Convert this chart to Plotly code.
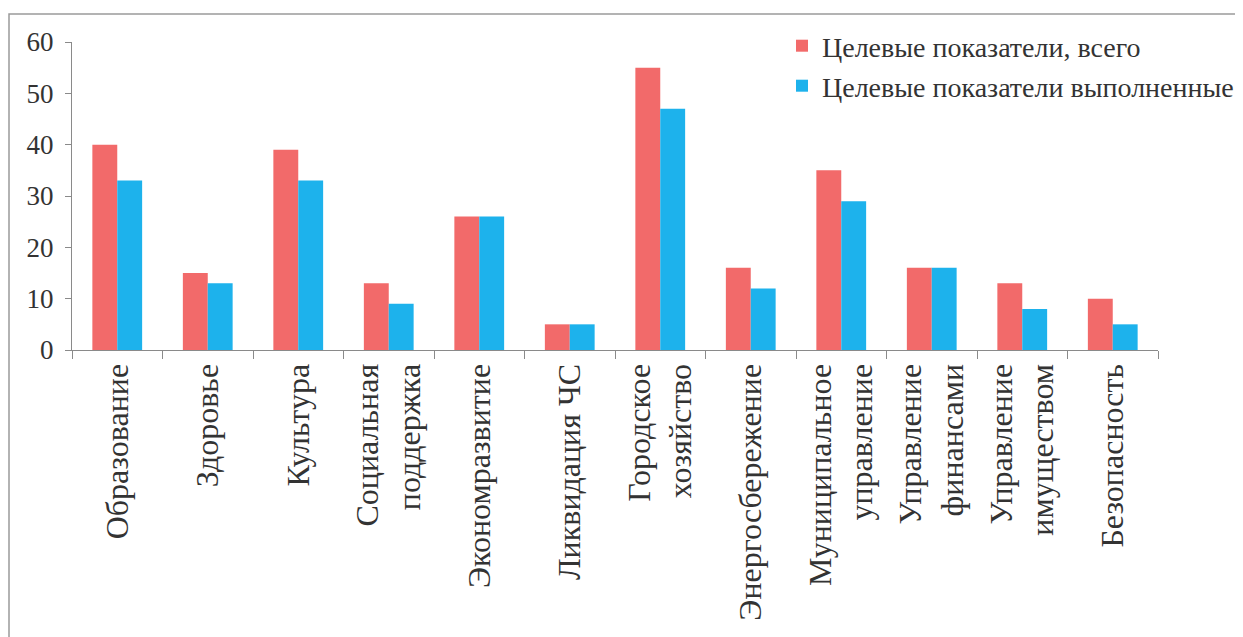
import plotly.graph_objects as go

categories = [
    "Образование", "Здоровье", "Культура", "Социальная<br>поддержка",
    "Экономразвитие", "Ликвидация ЧС", "Городское<br>хозяйство",
    "Энергосбережение", "Муниципальное<br>управление", "Управление<br>финансами",
    "Управление<br>имуществом", "Безопасность",
]
total = [40, 15, 39, 13, 26, 5, 55, 16, 35, 16, 13, 10]
done = [33, 13, 33, 9, 26, 5, 47, 12, 29, 16, 8, 5]
series_names = ["Целевые показатели, всего", "Целевые показатели выполненные"]
y_ticks = [0, 10, 20, 30, 40, 50, 60]

FONT = "Liberation Serif, Times New Roman, DejaVu Serif, serif"
OFF = 8  # page body offset
W, H = 1243, 637
# target screen coordinates of the plot area
SX0, SX1, SY0, SY1 = 72, 1158, 42, 350
L = SX0 - OFF
T = SY0 - OFF
R = W + OFF - SX1
B = H + OFF - SY1
pw = SX1 - SX0
ph = SY1 - SY0

def px_x(p):
    return (p - SX0) / pw

def px_y(p):
    return (SY1 - p) / ph

fig = go.Figure()
fig.add_trace(go.Bar(x=categories, y=total, name=series_names[0], legend="legend",
                     marker=dict(color="#F26A6A", line=dict(width=0))))
fig.add_trace(go.Bar(x=categories, y=done, name=series_names[1], legend="legend2",
                     marker=dict(color="#1DB2EC", line=dict(width=0))))

fig.add_shape(type="rect", xref="paper", yref="paper",
              x0=px_x(9), x1=px_x(W + 20), y0=px_y(H + 20), y1=px_y(14),
              line=dict(color="#9a9a9a", width=1.5), fillcolor="rgba(0,0,0,0)")

leg_common = dict(xanchor="left", yanchor="middle",
                  font=dict(size=28, family=FONT, color="#333333"),
                  bgcolor="rgba(0,0,0,0)", itemwidth=30)

fig.update_layout(
    width=W, height=H,
    margin=dict(l=L, r=R, t=T, b=B, autoexpand=False),
    paper_bgcolor="white", plot_bgcolor="white",
    barmode="group", bargap=0.45, bargroupgap=0,
    font=dict(family=FONT, color="#333333"),
    showlegend=True,
    legend=dict(x=px_x(782), y=px_y(46), **leg_common),
    legend2=dict(x=px_x(782), y=px_y(86), **leg_common),
    xaxis=dict(showline=True, linecolor="#8a8a8a", linewidth=1.2,
               ticks="outside", ticklen=8, tickcolor="#8a8a8a", tickson="boundaries",
               tickangle=-90, tickfont=dict(size=32, family=FONT, color="#333333"),
               automargin=False, showgrid=False),
    yaxis=dict(range=[0, 60], tickvals=y_ticks, showline=True, linecolor="#8a8a8a",
               linewidth=1.2, ticks="outside", ticklen=6, tickcolor="#8a8a8a",
               tickfont=dict(size=27, family=FONT, color="#333333"),
               showgrid=False, zeroline=False, automargin=False, ticklabelstandoff=6),
)

fig.write_html("out.html")
